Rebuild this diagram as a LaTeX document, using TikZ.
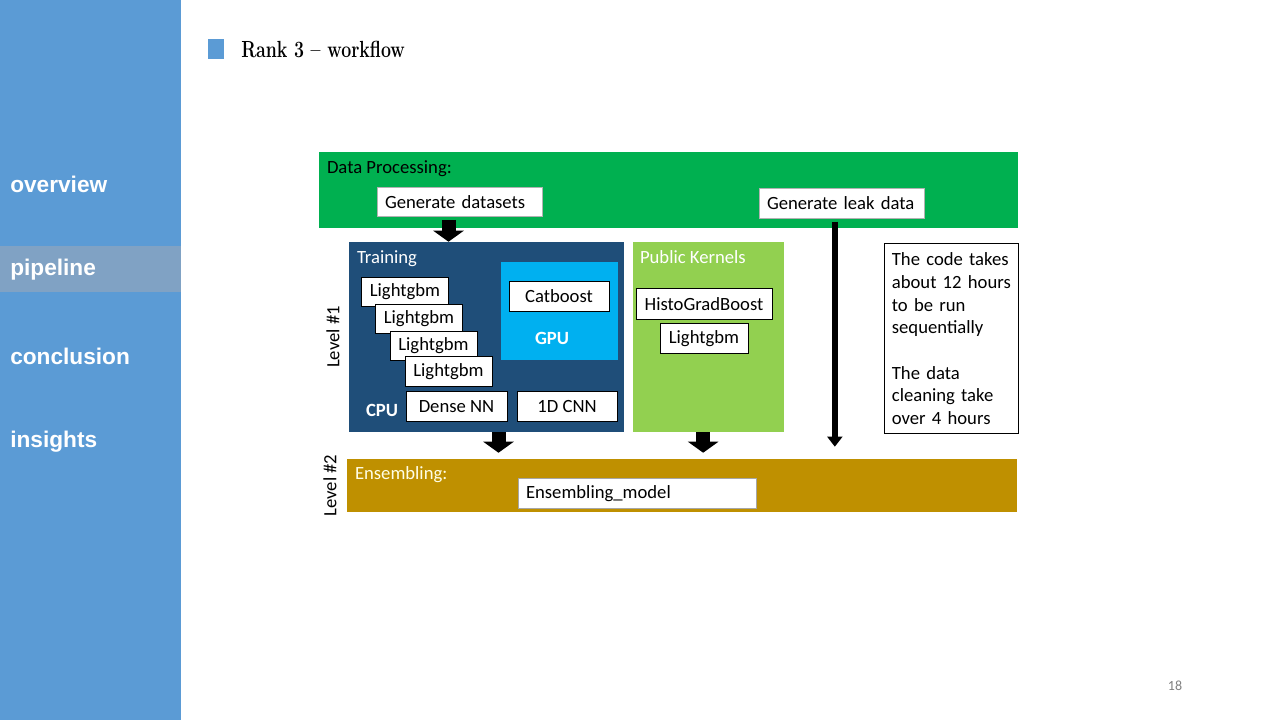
\documentclass[tikz,border=0pt]{standalone}
\usepackage{fontspec}
\newfontfamily\calibri{Carlito}
\newfontfamily\arialfont{Liberation Sans}
\usepackage{tikz}
\usetikzlibrary{
arrows.meta,
positioning,
calc
}
\definecolor{sidebar}{RGB}{91,155,213}
\definecolor{sidehl}{RGB}{128,162,196}
\definecolor{dpgreen}{RGB}{0,176,80}
\definecolor{trainblue}{RGB}{31,78,121}
\definecolor{gpublue}{RGB}{0,176,240}
\definecolor{pubgreen}{RGB}{146,208,80}
\definecolor{ensgold}{RGB}{191,144,0}

\begin{document}
\begin{tikzpicture}[x=0.75pt,y=-0.75pt,
   every node/.style={font=\calibri\fontsize{14}{17}\selectfont},
   panel/.style={inner sep=0pt,minimum height=142.5pt},
   wbox/.style={draw=black,line width=0.6pt,fill=white,inner sep=0pt,minimum height=22.5pt},
   gbox/.style={wbox,draw=gray!60,align=left,inner xsep=6pt},
   plabel/.style={anchor=base west,inner sep=0pt},
   blockarr/.style={line width=10.5pt,-{Triangle[length=8.25pt,width=22.5pt]}},
   leakarr/.style={line width=4.5pt,-{Triangle[length=7.5pt,width=11pt]}}]
      \useasboundingbox (0,0) rectangle (1280,720);
      % side bar
      \fill[sidebar] (0,0) rectangle (181,720);
      \fill[sidehl] (0,246) rectangle (181,292);
      \foreach \name/\yy in {overview/184,pipeline/270,conclusion/356,insights/442}
         \node[anchor=west,inner sep=0pt,text=white,font=\arialfont\bfseries\fontsize{17}{19}\selectfont] (side-\name) at (10,\yy) {\name};
      % title
      \fill[sidebar] (208,39) rectangle (224,59);
      \node[anchor=west,inner sep=0pt,font=\rmfamily\bfseries\fontsize{17.5}{20}\selectfont] (title) at (241,49) {\scalebox{0.76}[1]{Rank 3 -- workflow}};
      % level 0
      \node[panel,fill=dpgreen,minimum width=524.25pt,minimum height=57pt] (dp) at (668.5,190) {};
      \node[plabel] at ($(dp.north west)+(8,22)$) {Data Processing:};
      \node[gbox,text width=111.75pt,minimum height=21.75pt] (gends) at (459.5,202) {Generate datasets};
      \node[gbox,text width=111.75pt] (genleak) at (841.5,203.5) {Generate leak data};
      % level 1
      \node[panel,fill=trainblue,minimum width=206.25pt] (train) at (486.5,337) {};
      \node[plabel,text=white] at ($(train.north west)+(8,22)$) {Training};
      \node[panel,fill=gpublue,minimum width=87.75pt,minimum height=73.5pt] (gpu) at (559.5,311) {};
      \node[wbox,minimum width=75pt] (catb) at (559,296.5) {Catboost};
      \node[text=white,font=\calibri\bfseries\fontsize{14}{17}\selectfont] (gpulbl) at (552,338) {GPU};
      \foreach \i/\xx/\yy in {1/405/292,2/419/319,3/433.5/346,4/448.5/371.5}
         \node[wbox,minimum width=65.25pt,minimum height=22pt] (lgb\i) at (\xx,\yy) {Lightgbm};
      \node[wbox,minimum width=75.75pt] (dense) at (456.5,406.5) {Dense NN};
      \node[wbox,minimum width=75pt] (cnn) at (567,406.5) {1D CNN};
      \node[text=white,font=\calibri\bfseries\fontsize{14}{17}\selectfont] (cpulbl) at (382,410) {CPU};
      \node[panel,fill=pubgreen,minimum width=113.25pt] (pub) at (708.5,337) {};
      \node[plabel,text=white] at ($(pub.north west)+(7,22)$) {Public Kernels};
      \node[wbox,minimum width=102pt,minimum height=23.25pt] (hgb) at (704,304) {HistoGradBoost};
      \node[wbox,minimum width=66pt] (lgb5) at (704,338.5) {Lightgbm};
      \node[panel,draw=black,line width=0.6pt,fill=white,minimum width=100.5pt] (note) at (951,338) {};
      \node[anchor=north west,inner sep=0pt,text width=95pt,align=left] (notetext) at ($(note.north west)+(8,10)$)
         {The code takes\\ about 12 hours\\ to be run\\ sequentially\\[17pt] The data\\ cleaning take\\ over 4 hours};
      \node[rotate=90] (lvl1) at (333,337) {Level \#1};
      % level 2
      \node[panel,fill=ensgold,minimum width=502.5pt,minimum height=39.75pt] (ens) at (682,485.5) {};
      \node[plabel,text=white!90!yellow] at ($(ens.north west)+(8,21)$) {Ensembling:};
      \node[gbox,text width=166.5pt,draw=gray!70] (ensm) at (637,493.5) {Ensembling\_model};
      \node[rotate=90] (lvl2) at (330,485.5) {Level \#2};
      % arrows
      \draw[blockarr] ([xshift=-8.25pt,yshift=-2.25pt]gends.south) -- ([xshift=-8.25pt]gends.south |- train.north);
      \draw[blockarr] ([xshift=9pt]train.south) -- ([xshift=9pt,yshift=4.5pt]train.south |- ens.north);
      \draw[blockarr] ([xshift=-4pt]pub.south) -- ([xshift=-4pt,yshift=4.5pt]pub.south |- ens.north);
      \draw[leakarr] ([xshift=-5pt,yshift=-2pt]genleak.south) -- ([xshift=-5pt,yshift=9pt]genleak.south |- ens.north);
      % page number
      \node[text=gray,font=\calibri\fontsize{10.5}{12}\selectfont] (pagenum) at (1175,686) {18};
\end{tikzpicture}
\end{document}
